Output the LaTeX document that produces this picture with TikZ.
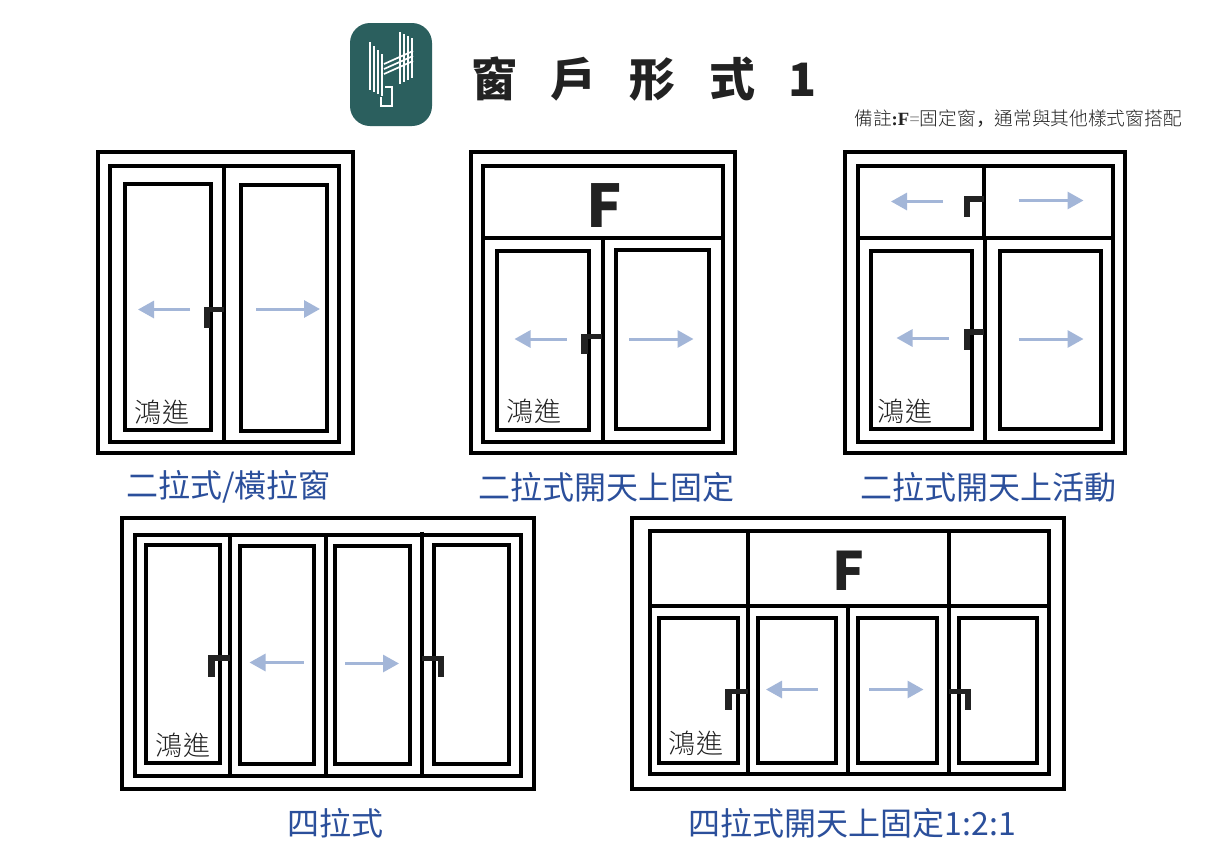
\documentclass[tikz,border=0pt]{standalone}
\usepackage{fontspec}
\setmainfont{Noto Sans CJK TC}
\newfontfamily\lightcjk[UprightFont={* Light}]{Noto Sans CJK TC}
\newfontfamily\commacjk{Noto Sans CJK SC}
\newfontfamily\boldserif{Liberation Serif}
\usetikzlibrary{arrows.meta}
\definecolor{logogreen}{HTML}{2B5F5E}
\definecolor{slideblue}{HTML}{A3B6D8}
\definecolor{captionblue}{HTML}{2B4F9B}
\definecolor{inkblack}{HTML}{222222}
\tikzset{
	wall/.style={draw=black, line width=4pt},
	pane/.style={draw=black, line width=4pt},
	bar/.style={draw=black, line width=4pt},
	lock/.style={fill=inkblack},
	slide/.style={draw=slideblue, line width=3pt, -{Triangle[length=16pt,width=17pt]}},
	brand/.style={inner sep=0pt, text=inkblack, font=\lightcjk\fontsize{27}{27}\selectfont},
	caption/.style={inner sep=0pt, text=captionblue, font=\fontsize{32}{32}\selectfont},
	bigF/.style={inner sep=0pt, text=inkblack, font=\bfseries\fontsize{59}{59}\selectfont},
	logoline/.style={draw=white, line width=1.7pt}
}
\begin{document}
\begin{tikzpicture}[x=1pt, y=-1pt]
	\useasboundingbox[fill=white] (0,0) rectangle (1220,865);

	% Draw the logo
	\fill[logogreen, rounded corners=20pt] (350,23) rectangle (432,126);
	\foreach \dx in {0,4,8,12} {
		\draw[logoline] (370+\dx,42+\dx) -- (370+\dx,90+\dx/2);
		\draw[logoline] (400+\dx,32+\dx/2) -- (400+\dx,84-\dx/2);
	}
	\foreach \dy in {0,5,10} {
		\draw[logoline] (384,64+\dy) -- (413,51+\dy);
	}
	\draw[logoline] (385,87) -- (392,87) -- (392,106) -- (381,106) -- (381,97);

	% Title and remark
	\node[inner sep=0pt, text=inkblack, font=\bfseries\fontsize{46}{46}\selectfont] (title) at (644,79)
		{窗\hspace{33.2pt}戶\hspace{33.2pt}形\hspace{33.2pt}式\hspace{33.2pt}1};
	\node[inner sep=0pt, text=inkblack, font=\lightcjk\fontsize{18.7}{19}\selectfont] (remark) at (1018,119)
		{備註{\boldserif\bfseries:F}{\color{gray}\boldserif=}固定窗{\commacjk，}通常與其他樣式窗搭配};

	% First window
	\draw[wall] (98,151.5) rectangle (352.5,453);
	\draw[wall] (109.5,166) rectangle (338.5,441.5);
	\draw[bar] (224,164) -- (224,441.5);
	\draw[pane] (124.5,183.5) rectangle (210.5,430);
	\draw[pane] (240.5,184.5) rectangle (326.5,430.5);
	\fill[lock] (204,306.5) rectangle (209.5,327.5);
	\fill[lock] (204,306.5) rectangle (224,311.5);
	\draw[slide] (190,309.5) -- (138,309.5);
	\draw[slide] (256,309) -- (320,309);
	\node[brand] (brandA) at (162,412.5) {鴻\hspace{1pt}進};
	\node[caption] (captionA) at (228.5,487) {二拉式/橫拉窗};

	% Second window
	\draw[wall] (471,151.5) rectangle (735,453);
	\draw[wall] (482.5,166) rectangle (722.5,441.5);
	\draw[bar] (482.5,237.5) -- (722.5,237.5);
	\draw[bar] (602.5,237.5) -- (602.5,441.5);
	\draw[pane] (496.5,250.5) rectangle (589,430);
	\draw[pane] (615.5,249.5) rectangle (708.5,428.5);
	\fill[lock] (581,333.5) rectangle (588,354);
	\fill[lock] (581,333.5) rectangle (602,338.5);
	\draw[slide] (566.5,339) -- (514.5,339);
	\draw[slide] (629,339) -- (693.5,339);
	\node[bigF] (fixedB) at (604,206) {F};
	\node[brand] (brandB) at (534,411) {鴻\hspace{1pt}進};
	\node[caption] (captionB) at (606.5,487) {二拉式開天上固定};

	% Third window
	\draw[wall] (844.5,151.5) rectangle (1124.5,453);
	\draw[wall] (857.5,166) rectangle (1112.5,441.5);
	\draw[bar] (857.5,237.5) -- (1112.5,237.5);
	\draw[bar] (983.5,164) -- (983.5,237.5);
	\draw[bar] (985,237.5) -- (985,441.5);
	\draw[pane] (870.5,250.5) rectangle (971.5,428.5);
	\draw[pane] (999.5,250.5) rectangle (1101,428.5);
	\fill[lock] (963.5,196) rectangle (970,216.5);
	\fill[lock] (963.5,196) rectangle (983.5,201.5);
	\fill[lock] (963.5,329) rectangle (970,349.5);
	\fill[lock] (963.5,329) rectangle (984,334.5);
	\draw[slide] (943,201.5) -- (891,201.5);
	\draw[slide] (1018.5,200.5) -- (1083.5,200.5);
	\draw[slide] (948.5,338) -- (896.5,338);
	\draw[slide] (1018.5,339) -- (1083.5,339);
	\node[brand] (brandC) at (905,411) {鴻\hspace{1pt}進};
	\node[caption] (captionC) at (988.5,487) {二拉式開天上活動};

	% Fourth window
	\draw[wall] (122,518) rectangle (534,788.5);
	\draw[wall] (134.5,534.5) rectangle (521,776);
	\draw[bar] (230,536.5) -- (230,778);
	\draw[bar] (325.5,536.5) -- (325.5,778);
	\draw[bar] (422,531.5) -- (422,773.5);
	\draw[pane] (145.5,545) rectangle (220,762.5);
	\draw[pane] (239.5,546) rectangle (313.5,764);
	\draw[pane] (335,546) rectangle (410,764);
	\draw[pane] (434,545) rectangle (509,764);
	\fill[lock] (208,655) rectangle (214.5,676.5);
	\fill[lock] (208,655) rectangle (230,660.5);
	\fill[lock] (437.5,655.5) rectangle (444,676.5);
	\fill[lock] (422,655.5) rectangle (444,661);
	\draw[slide] (303.5,662.5) -- (249.5,662.5);
	\draw[slide] (345,663.5) -- (399,663.5);
	\node[brand] (brandD) at (183,745) {鴻\hspace{1pt}進};
	\node[caption] (captionD) at (335,823) {四拉式};

	% Fifth window
	\draw[wall] (632,518) rectangle (1064,788.5);
	\draw[wall] (650,531) rectangle (1049,773.5);
	\draw[bar] (648,605.5) -- (1049,605.5);
	\draw[bar] (748,531) -- (748,773.5);
	\draw[bar] (948.5,531) -- (948.5,773.5);
	\draw[bar] (847.5,605.5) -- (847.5,773.5);
	\draw[pane] (659,617.5) rectangle (738,762.5);
	\draw[pane] (757.5,617.5) rectangle (836,762.5);
	\draw[pane] (858,617.5) rectangle (937,762.5);
	\draw[pane] (958.5,617.5) rectangle (1037,762.5);
	\fill[lock] (725,688.5) rectangle (731.5,710);
	\fill[lock] (725,688.5) rectangle (748,694);
	\fill[lock] (964.5,688.5) rectangle (971,710);
	\fill[lock] (948.5,688.5) rectangle (971,694);
	\draw[slide] (818,689.5) -- (766,689.5);
	\draw[slide] (869,689.5) -- (923.5,689.5);
	\node[bigF] (fixedE) at (848,571) {\fontsize{53}{53}\selectfont F};
	\node[brand] (brandE) at (696,743.5) {鴻\hspace{1pt}進};
	\node[caption] (captionE) at (852.5,823) {四拉式開天上固定1:2:1};
\end{tikzpicture}
\end{document}
